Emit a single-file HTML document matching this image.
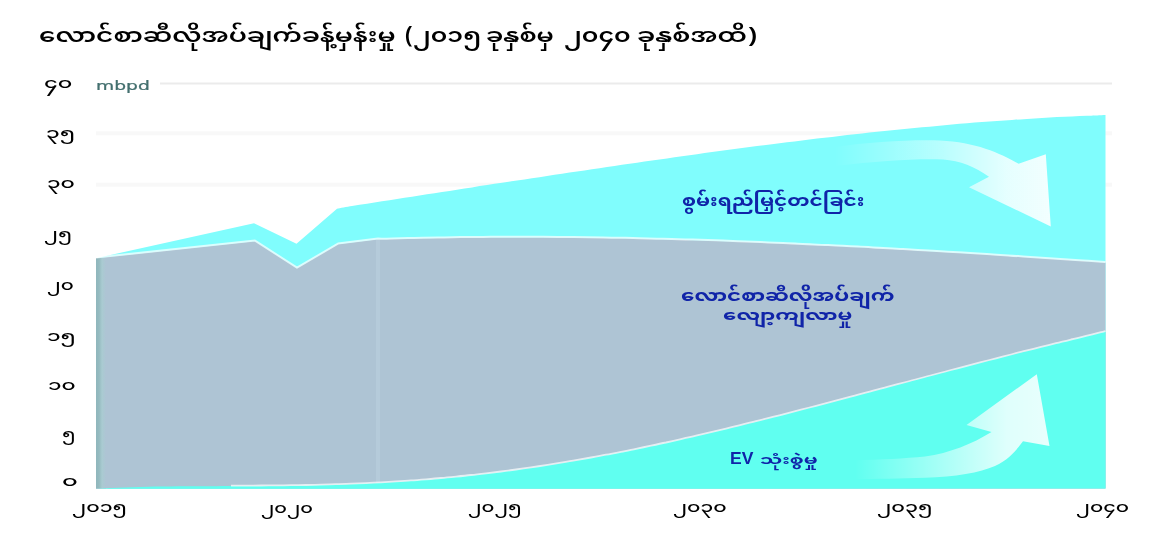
<!DOCTYPE html>
<html><head><meta charset="utf-8">
<style>
html,body{margin:0;padding:0;background:#fff;}
body{width:1170px;height:550px;position:relative;overflow:hidden;filter:blur(0.4px);}
.t{position:absolute;white-space:nowrap;line-height:1;transform-origin:0 0;}
svg{position:absolute;left:0;top:0;}
</style></head><body>
<svg width="1170" height="550" viewBox="0 0 1170 550">
  <defs>
    <linearGradient id="ga1" x1="835" y1="0" x2="1050" y2="0" gradientUnits="userSpaceOnUse">
      <stop offset="0" stop-color="#fff" stop-opacity="0"/>
      <stop offset="0.5" stop-color="#fff" stop-opacity="0.45"/>
      <stop offset="0.8" stop-color="#fff" stop-opacity="0.8"/>
      <stop offset="1" stop-color="#fff" stop-opacity="0.9"/>
    </linearGradient>
    <linearGradient id="ga2" x1="855" y1="0" x2="1045" y2="0" gradientUnits="userSpaceOnUse">
      <stop offset="0" stop-color="#fff" stop-opacity="0"/>
      <stop offset="0.45" stop-color="#fff" stop-opacity="0.45"/>
      <stop offset="0.8" stop-color="#fff" stop-opacity="0.8"/>
      <stop offset="1" stop-color="#fff" stop-opacity="0.85"/>
    </linearGradient>
    <linearGradient id="gl" x1="96" y1="0" x2="106" y2="0" gradientUnits="userSpaceOnUse">
      <stop offset="0" stop-color="#8fb6bc"/>
      <stop offset="0.3" stop-color="#95babf"/>
      <stop offset="0.6" stop-color="#a9cbd1"/>
      <stop offset="1" stop-color="#aec4d4"/>
    </linearGradient>
  </defs>
  <line x1="160" y1="83.5" x2="1112" y2="83.5" stroke="#ebebeb" stroke-width="2"/>
  <g stroke="#f8f8f8" stroke-width="4">
    <line x1="96" y1="133.2" x2="1112" y2="133.2"/>
    <line x1="96" y1="184.7" x2="1112" y2="184.7"/>
  </g>
  <path fill="#80fdfd" d="M96.0,258.2 L254.0,223.3 L296.5,243.8 L337.0,208.8 C339.5,208.0 347.0,206.8 352.0,206.0 C357.0,205.2 362.0,204.4 367.0,203.7 C372.0,202.9 377.0,202.1 382.0,201.3 C387.0,200.5 392.0,199.8 397.0,199.0 C402.0,198.2 407.0,197.4 412.0,196.7 C417.0,195.9 422.0,195.1 427.0,194.3 C432.0,193.5 437.0,192.8 442.0,192.0 C447.0,191.2 452.0,190.5 457.0,189.7 C462.0,188.9 467.0,188.1 472.0,187.4 C477.0,186.6 482.0,185.8 487.0,185.1 C492.0,184.3 497.0,183.5 502.0,182.8 C507.0,182.0 512.0,181.2 517.0,180.5 C522.0,179.7 527.0,179.0 532.0,178.2 C537.0,177.5 542.0,176.7 547.0,175.9 C552.0,175.2 557.0,174.4 562.0,173.7 C567.0,172.9 572.0,172.2 577.0,171.5 C582.0,170.7 587.0,170.0 592.0,169.2 C597.0,168.5 602.0,167.8 607.0,167.0 C612.0,166.3 617.0,165.6 622.0,164.8 C627.0,164.1 632.0,163.4 637.0,162.7 C642.0,161.9 647.0,161.2 652.0,160.5 C657.0,159.8 662.0,159.1 667.0,158.4 C672.0,157.7 677.0,157.0 682.0,156.3 C687.0,155.6 692.0,154.9 697.0,154.2 C702.0,153.5 707.0,152.8 712.0,152.1 C717.0,151.4 722.0,150.8 727.0,150.1 C732.0,149.4 737.0,148.8 742.0,148.1 C747.0,147.4 752.0,146.8 757.0,146.1 C762.0,145.5 767.0,144.8 772.0,144.2 C777.0,143.6 782.0,142.9 787.0,142.3 C792.0,141.7 797.0,141.1 802.0,140.5 C807.0,139.8 812.0,139.2 817.0,138.6 C822.0,138.0 827.0,137.5 832.0,136.9 C837.0,136.3 842.0,135.7 847.0,135.1 C852.0,134.6 857.0,134.0 862.0,133.5 C867.0,132.9 872.0,132.4 877.0,131.8 C882.0,131.3 887.0,130.8 892.0,130.3 C897.0,129.7 902.0,129.2 907.0,128.7 C912.0,128.2 917.0,127.8 922.0,127.3 C927.0,126.8 932.0,126.3 937.0,125.9 C942.0,125.4 947.0,125.0 952.0,124.5 C957.0,124.1 962.0,123.7 967.0,123.3 C972.0,122.8 977.0,122.4 982.0,122.0 C987.0,121.7 992.0,121.3 997.0,120.9 C1002.0,120.5 1007.0,120.2 1012.0,119.9 C1017.0,119.5 1022.0,119.2 1027.0,118.9 C1032.0,118.6 1037.0,118.3 1042.0,118.0 C1047.0,117.7 1052.0,117.4 1057.0,117.1 C1062.0,116.9 1067.0,116.6 1072.0,116.4 C1077.0,116.2 1082.0,116.0 1087.0,115.8 C1092.0,115.6 1098.9,115.3 1102.0,115.2 C1105.1,115.1 1104.9,115.1 1105.5,115.1 L1105.5,488.6 L96,488.6 Z"/>
  <path fill="#aec4d4" d="M96.0,258.2 L255.0,241.2 L297.0,268.3 L338.0,244.2 L378.0,239.2 C380.5,239.4 388.0,239.2 393.0,239.0 C398.0,238.9 403.0,238.8 408.0,238.7 C413.0,238.5 418.0,238.4 423.0,238.3 C428.0,238.2 433.0,238.1 438.0,238.0 C443.0,238.0 448.0,237.9 453.0,237.8 C458.0,237.7 463.0,237.7 468.0,237.6 C473.0,237.6 478.0,237.5 483.0,237.5 C488.0,237.5 493.0,237.4 498.0,237.4 C503.0,237.4 508.0,237.4 513.0,237.4 C518.0,237.4 523.0,237.4 528.0,237.4 C533.0,237.4 538.0,237.4 543.0,237.4 C548.0,237.5 553.0,237.5 558.0,237.5 C563.0,237.6 568.0,237.6 573.0,237.7 C578.0,237.7 583.0,237.8 588.0,237.9 C593.0,237.9 598.0,238.0 603.0,238.1 C608.0,238.2 613.0,238.3 618.0,238.3 C623.0,238.4 628.0,238.5 633.0,238.6 C638.0,238.8 643.0,238.9 648.0,239.0 C653.0,239.1 658.0,239.2 663.0,239.4 C668.0,239.5 673.0,239.6 678.0,239.8 C683.0,239.9 688.0,240.1 693.0,240.2 C698.0,240.4 703.0,240.5 708.0,240.7 C713.0,240.9 718.0,241.0 723.0,241.2 C728.0,241.4 733.0,241.6 738.0,241.8 C743.0,242.0 748.0,242.1 753.0,242.3 C758.0,242.5 763.0,242.7 768.0,243.0 C773.0,243.2 778.0,243.4 783.0,243.6 C788.0,243.8 793.0,244.0 798.0,244.3 C803.0,244.5 808.0,244.7 813.0,245.0 C818.0,245.2 823.0,245.4 828.0,245.7 C833.0,245.9 838.0,246.2 843.0,246.4 C848.0,246.7 853.0,246.9 858.0,247.2 C863.0,247.4 868.0,247.7 873.0,248.0 C878.0,248.2 883.0,248.5 888.0,248.8 C893.0,249.1 898.0,249.4 903.0,249.6 C908.0,249.9 913.0,250.2 918.0,250.5 C923.0,250.8 928.0,251.1 933.0,251.4 C938.0,251.7 943.0,252.0 948.0,252.3 C953.0,252.6 958.0,252.9 963.0,253.2 C968.0,253.5 973.0,253.8 978.0,254.1 C983.0,254.4 988.0,254.7 993.0,255.1 C998.0,255.4 1003.0,255.7 1008.0,256.0 C1013.0,256.4 1018.0,256.7 1023.0,257.0 C1028.0,257.3 1033.0,257.7 1038.0,258.0 C1043.0,258.3 1048.0,258.7 1053.0,259.0 C1058.0,259.3 1063.0,259.7 1068.0,260.0 C1073.0,260.3 1078.0,260.7 1083.0,261.0 C1088.0,261.4 1094.2,261.8 1098.0,262.1 C1101.8,262.3 1104.2,262.5 1105.5,262.6 L1105.5,488.6 L96,488.6 Z"/>
  <rect x="96" y="258" width="10" height="230.6" fill="url(#gl)"/>
  <line x1="378" y1="240" x2="378" y2="483" stroke="#b5cbda" stroke-width="4"/>
  <path fill="#60fff0" d="M96.0,488.7 C98.5,488.6 106.0,488.2 111.0,487.9 C116.0,487.7 121.0,487.5 126.0,487.4 C131.0,487.2 136.0,487.1 141.0,486.9 C146.0,486.8 151.0,486.7 156.0,486.6 C161.0,486.6 166.0,486.5 171.0,486.4 C176.0,486.4 181.0,486.3 186.0,486.3 C191.0,486.3 196.0,486.3 201.0,486.2 C206.0,486.2 211.0,486.2 216.0,486.2 C221.0,486.2 226.0,486.2 231.0,486.1 C236.0,486.1 241.0,486.1 246.0,486.1 C251.0,486.1 256.0,486.0 261.0,486.0 C266.0,486.0 271.0,485.9 276.0,485.9 C281.0,485.8 286.0,485.8 291.0,485.7 C296.0,485.6 301.0,485.6 306.0,485.5 C311.0,485.4 316.0,485.3 321.0,485.1 C326.0,485.0 331.0,484.9 336.0,484.7 C341.0,484.6 346.0,484.4 351.0,484.2 C356.0,484.0 361.0,483.8 366.0,483.6 C371.0,483.3 376.0,483.1 381.0,482.8 C386.0,482.5 391.0,482.2 396.0,481.9 C401.0,481.6 406.0,481.3 411.0,480.9 C416.0,480.6 421.0,480.2 426.0,479.8 C431.0,479.4 436.0,479.0 441.0,478.5 C446.0,478.1 451.0,477.6 456.0,477.1 C461.0,476.6 466.0,476.1 471.0,475.5 C476.0,475.0 481.0,474.4 486.0,473.8 C491.0,473.2 496.0,472.6 501.0,472.0 C506.0,471.4 511.0,470.7 516.0,470.0 C521.0,469.3 526.0,468.6 531.0,467.9 C536.0,467.1 541.0,466.4 546.0,465.6 C551.0,464.8 556.0,464.0 561.0,463.2 C566.0,462.4 571.0,461.6 576.0,460.7 C581.0,459.8 586.0,458.9 591.0,458.0 C596.0,457.1 601.0,456.2 606.0,455.2 C611.0,454.3 616.0,453.3 621.0,452.3 C626.0,451.4 631.0,450.3 636.0,449.3 C641.0,448.3 646.0,447.2 651.0,446.2 C656.0,445.1 661.0,444.0 666.0,443.0 C671.0,441.9 676.0,440.7 681.0,439.6 C686.0,438.5 691.0,437.4 696.0,436.2 C701.0,435.0 706.0,433.9 711.0,432.7 C716.0,431.5 721.0,430.3 726.0,429.1 C731.0,427.9 736.0,426.7 741.0,425.4 C746.0,424.2 751.0,423.0 756.0,421.7 C761.0,420.5 766.0,419.2 771.0,417.9 C776.0,416.7 781.0,415.4 786.0,414.1 C791.0,412.8 796.0,411.5 801.0,410.2 C806.0,408.9 811.0,407.6 816.0,406.3 C821.0,405.0 826.0,403.7 831.0,402.4 C836.0,401.1 841.0,399.7 846.0,398.4 C851.0,397.1 856.0,395.8 861.0,394.4 C866.0,393.1 871.0,391.8 876.0,390.4 C881.0,389.1 886.0,387.8 891.0,386.4 C896.0,385.1 901.0,383.8 906.0,382.5 C911.0,381.1 916.0,379.8 921.0,378.5 C926.0,377.1 931.0,375.8 936.0,374.5 C941.0,373.2 946.0,371.9 951.0,370.5 C956.0,369.2 961.0,367.9 966.0,366.6 C971.0,365.3 976.0,364.0 981.0,362.7 C986.0,361.4 991.0,360.1 996.0,358.8 C1001.0,357.5 1006.0,356.3 1011.0,355.0 C1016.0,353.7 1021.0,352.4 1026.0,351.2 C1031.0,349.9 1036.0,348.7 1041.0,347.4 C1046.0,346.2 1051.0,344.9 1056.0,343.7 C1061.0,342.4 1066.0,341.2 1071.0,340.0 C1076.0,338.7 1081.0,337.5 1086.0,336.3 C1091.0,335.1 1097.8,333.5 1101.0,332.7 C1104.2,331.9 1104.8,331.8 1105.5,331.6 L1105.5,488.6 Z"/>
  <path fill="none" stroke="#fff" stroke-width="2" stroke-opacity="0.7" stroke-linejoin="round" d="M96.0,257.6 L255.0,240.6 L297.0,267.7 L338.0,243.6 L378.0,238.6 C380.5,238.8 388.0,238.6 393.0,238.4 C398.0,238.3 403.0,238.2 408.0,238.1 C413.0,237.9 418.0,237.8 423.0,237.7 C428.0,237.6 433.0,237.5 438.0,237.4 C443.0,237.4 448.0,237.3 453.0,237.2 C458.0,237.1 463.0,237.1 468.0,237.0 C473.0,237.0 478.0,236.9 483.0,236.9 C488.0,236.9 493.0,236.8 498.0,236.8 C503.0,236.8 508.0,236.8 513.0,236.8 C518.0,236.8 523.0,236.8 528.0,236.8 C533.0,236.8 538.0,236.8 543.0,236.8 C548.0,236.9 553.0,236.9 558.0,236.9 C563.0,237.0 568.0,237.0 573.0,237.1 C578.0,237.1 583.0,237.2 588.0,237.3 C593.0,237.3 598.0,237.4 603.0,237.5 C608.0,237.6 613.0,237.7 618.0,237.7 C623.0,237.8 628.0,237.9 633.0,238.0 C638.0,238.2 643.0,238.3 648.0,238.4 C653.0,238.5 658.0,238.6 663.0,238.8 C668.0,238.9 673.0,239.0 678.0,239.2 C683.0,239.3 688.0,239.5 693.0,239.6 C698.0,239.8 703.0,239.9 708.0,240.1 C713.0,240.3 718.0,240.4 723.0,240.6 C728.0,240.8 733.0,241.0 738.0,241.2 C743.0,241.4 748.0,241.5 753.0,241.7 C758.0,241.9 763.0,242.1 768.0,242.4 C773.0,242.6 778.0,242.8 783.0,243.0 C788.0,243.2 793.0,243.4 798.0,243.7 C803.0,243.9 808.0,244.1 813.0,244.4 C818.0,244.6 823.0,244.8 828.0,245.1 C833.0,245.3 838.0,245.6 843.0,245.8 C848.0,246.1 853.0,246.3 858.0,246.6 C863.0,246.8 868.0,247.1 873.0,247.4 C878.0,247.6 883.0,247.9 888.0,248.2 C893.0,248.5 898.0,248.8 903.0,249.0 C908.0,249.3 913.0,249.6 918.0,249.9 C923.0,250.2 928.0,250.5 933.0,250.8 C938.0,251.1 943.0,251.4 948.0,251.7 C953.0,252.0 958.0,252.3 963.0,252.6 C968.0,252.9 973.0,253.2 978.0,253.5 C983.0,253.8 988.0,254.1 993.0,254.5 C998.0,254.8 1003.0,255.1 1008.0,255.4 C1013.0,255.8 1018.0,256.1 1023.0,256.4 C1028.0,256.7 1033.0,257.1 1038.0,257.4 C1043.0,257.7 1048.0,258.1 1053.0,258.4 C1058.0,258.7 1063.0,259.1 1068.0,259.4 C1073.0,259.7 1078.0,260.1 1083.0,260.4 C1088.0,260.8 1094.2,261.2 1098.0,261.5 C1101.8,261.7 1104.2,261.9 1105.5,262.0"/>
  <path fill="none" stroke="#fff" stroke-width="1.8" stroke-opacity="0.7" stroke-linejoin="round" d="M231.0,485.6 C233.5,485.6 241.0,485.6 246.0,485.6 C251.0,485.6 256.0,485.5 261.0,485.5 C266.0,485.5 271.0,485.4 276.0,485.4 C281.0,485.3 286.0,485.3 291.0,485.2 C296.0,485.1 301.0,485.1 306.0,485.0 C311.0,484.9 316.0,484.8 321.0,484.6 C326.0,484.5 331.0,484.4 336.0,484.2 C341.0,484.1 346.0,483.9 351.0,483.7 C356.0,483.5 361.0,483.3 366.0,483.1 C371.0,482.8 376.0,482.6 381.0,482.3 C386.0,482.0 391.0,481.7 396.0,481.4 C401.0,481.1 406.0,480.8 411.0,480.4 C416.0,480.1 421.0,479.7 426.0,479.3 C431.0,478.9 436.0,478.5 441.0,478.0 C446.0,477.6 451.0,477.1 456.0,476.6 C461.0,476.1 466.0,475.6 471.0,475.0 C476.0,474.5 481.0,473.9 486.0,473.3 C491.0,472.7 496.0,472.1 501.0,471.5 C506.0,470.9 511.0,470.2 516.0,469.5 C521.0,468.8 526.0,468.1 531.0,467.4 C536.0,466.6 541.0,465.9 546.0,465.1 C551.0,464.3 556.0,463.5 561.0,462.7 C566.0,461.9 571.0,461.1 576.0,460.2 C581.0,459.3 586.0,458.4 591.0,457.5 C596.0,456.6 601.0,455.7 606.0,454.7 C611.0,453.8 616.0,452.8 621.0,451.8 C626.0,450.9 631.0,449.8 636.0,448.8 C641.0,447.8 646.0,446.7 651.0,445.7 C656.0,444.6 661.0,443.5 666.0,442.5 C671.0,441.4 676.0,440.2 681.0,439.1 C686.0,438.0 691.0,436.9 696.0,435.7 C701.0,434.5 706.0,433.4 711.0,432.2 C716.0,431.0 721.0,429.8 726.0,428.6 C731.0,427.4 736.0,426.2 741.0,424.9 C746.0,423.7 751.0,422.5 756.0,421.2 C761.0,420.0 766.0,418.7 771.0,417.4 C776.0,416.2 781.0,414.9 786.0,413.6 C791.0,412.3 796.0,411.0 801.0,409.7 C806.0,408.4 811.0,407.1 816.0,405.8 C821.0,404.5 826.0,403.2 831.0,401.9 C836.0,400.6 841.0,399.2 846.0,397.9 C851.0,396.6 856.0,395.3 861.0,393.9 C866.0,392.6 871.0,391.3 876.0,389.9 C881.0,388.6 886.0,387.3 891.0,385.9 C896.0,384.6 901.0,383.3 906.0,382.0 C911.0,380.6 916.0,379.3 921.0,378.0 C926.0,376.6 931.0,375.3 936.0,374.0 C941.0,372.7 946.0,371.4 951.0,370.0 C956.0,368.7 961.0,367.4 966.0,366.1 C971.0,364.8 976.0,363.5 981.0,362.2 C986.0,360.9 991.0,359.6 996.0,358.3 C1001.0,357.0 1006.0,355.8 1011.0,354.5 C1016.0,353.2 1021.0,351.9 1026.0,350.7 C1031.0,349.4 1036.0,348.2 1041.0,346.9 C1046.0,345.7 1051.0,344.4 1056.0,343.2 C1061.0,341.9 1066.0,340.7 1071.0,339.5 C1076.0,338.2 1081.0,337.0 1086.0,335.8 C1091.0,334.6 1097.8,333.0 1101.0,332.2 C1104.2,331.4 1104.8,331.3 1105.5,331.1"/>
  <path fill="url(#ga1)" d="M835,147 C870,142 910,139.5 940,140.5 C975,142 1000,153 1018.6,163.7 L1045.8,154.3 L1050.8,226.4 L969,187.2 L989,176.7 C975,167 960,160.5 943,159.5 C915,158.5 880,161 835,166 Z"/>
  <path fill="url(#ga2)" d="M855,460.5 C880,459.5 905,458.5 925,456.5 C950,453 972,444 991.5,432 L966.5,425 L1036.8,374.2 L1049.5,446 L1023,441.2 C1015,452 1008,460 995,466 C980,472.5 955,477 925,477.8 C900,478.5 875,479 855,479.2 Z"/>
</svg>
<div class="t" style="left:39.31px;top:24.85px;font-family:'Noto Sans Myanmar UI','Noto Sans Myanmar',sans-serif;font-weight:600;font-size:22px;color:#000;transform:scale(1.1943,0.9909);">လောင်စာဆီလိုအပ်ချက်ခန့်မှန်းမှု</div>
<div class="t" style="left:405.32px;top:21.75px;font-family:'Noto Sans Myanmar UI','Noto Sans Myanmar',sans-serif;font-weight:600;font-size:22px;color:#000;transform:scale(1.0800,1.0368);">(</div>
<div class="t" style="left:413.36px;top:24.77px;font-family:'Noto Sans Myanmar UI','Noto Sans Myanmar',sans-serif;font-weight:600;font-size:22px;color:#000;transform:scale(1.1386,0.9909);">၂၀၁၅</div>
<div class="t" style="left:486.07px;top:24.85px;font-family:'Noto Sans Myanmar UI','Noto Sans Myanmar',sans-serif;font-weight:600;font-size:22px;color:#000;transform:scale(1.1345,0.9909);">ခုနှစ်မှ</div>
<div class="t" style="left:564.26px;top:24.77px;font-family:'Noto Sans Myanmar UI','Noto Sans Myanmar',sans-serif;font-weight:600;font-size:22px;color:#000;transform:scale(1.1446,0.9909);">၂၀၄၀</div>
<div class="t" style="left:636.90px;top:24.85px;font-family:'Noto Sans Myanmar UI','Noto Sans Myanmar',sans-serif;font-weight:600;font-size:22px;color:#000;transform:scale(1.1967,0.9909);">ခုနှစ်အထိ</div>
<div class="t" style="left:747.54px;top:23.18px;font-family:'Noto Sans Myanmar UI','Noto Sans Myanmar',sans-serif;font-weight:600;font-size:22px;color:#000;transform:scale(1.2600,1.0053);">)</div>
<div class="t" style="left:95.75px;top:79.70px;font-family:'DejaVu Sans',sans-serif;font-weight:400;font-size:15px;color:#44706f;transform:scale(1.2463,0.8333);-webkit-text-stroke:0.3px #44706f;">mbpd</div>
<div class="t" style="left:44.29px;top:76.77px;font-family:'Noto Sans Myanmar UI','Noto Sans Myanmar',sans-serif;font-weight:500;font-size:17px;color:#000;transform:scale(1.3050,0.9563);">၄၀</div>
<div class="t" style="left:46.20px;top:125.90px;font-family:'Noto Sans Myanmar UI','Noto Sans Myanmar',sans-serif;font-weight:500;font-size:17px;color:#000;transform:scale(1.2950,0.9250);">၃၅</div>
<div class="t" style="left:46.82px;top:175.55px;font-family:'Noto Sans Myanmar UI','Noto Sans Myanmar',sans-serif;font-weight:500;font-size:17px;color:#000;transform:scale(1.2800,0.9375);">၃၀</div>
<div class="t" style="left:43.71px;top:227.02px;font-family:'Noto Sans Myanmar UI','Noto Sans Myanmar',sans-serif;font-weight:500;font-size:17px;color:#000;transform:scale(1.1857,0.9187);">၂၅</div>
<div class="t" style="left:46.53px;top:278.33px;font-family:'Noto Sans Myanmar UI','Noto Sans Myanmar',sans-serif;font-weight:500;font-size:17px;color:#000;transform:scale(1.1667,0.9187);">၂၀</div>
<div class="t" style="left:47.22px;top:329.00px;font-family:'Noto Sans Myanmar UI','Noto Sans Myanmar',sans-serif;font-weight:500;font-size:17px;color:#000;transform:scale(1.2800,0.9000);">၁၅</div>
<div class="t" style="left:47.93px;top:377.50px;font-family:'Noto Sans Myanmar UI','Noto Sans Myanmar',sans-serif;font-weight:500;font-size:17px;color:#000;transform:scale(1.2650,1.0250);">၁၀</div>
<div class="t" style="left:62.46px;top:427.45px;font-family:'Noto Sans Myanmar UI','Noto Sans Myanmar',sans-serif;font-weight:500;font-size:17px;color:#000;transform:scale(1.1400,0.9375);">၅</div>
<div class="t" style="left:62.49px;top:475.30px;font-family:'Noto Sans Myanmar UI','Noto Sans Myanmar',sans-serif;font-weight:500;font-size:17px;color:#000;transform:scale(1.4111,0.9500);">၀</div>
<div class="t" style="left:71.79px;top:499.95px;font-family:'Noto Sans Myanmar UI','Noto Sans Myanmar',sans-serif;font-weight:500;font-size:17px;color:#000;transform:scale(1.2093,0.9375);">၂၀၁၅</div>
<div class="t" style="left:260.77px;top:500.73px;font-family:'Noto Sans Myanmar UI','Noto Sans Myanmar',sans-serif;font-weight:500;font-size:17px;color:#000;transform:scale(1.1341,0.9437);">၂၀၂၀</div>
<div class="t" style="left:468.45px;top:499.95px;font-family:'Noto Sans Myanmar UI','Noto Sans Myanmar',sans-serif;font-weight:500;font-size:17px;color:#000;transform:scale(1.1523,0.9375);">၂၀၂၅</div>
<div class="t" style="left:672.50px;top:499.95px;font-family:'Noto Sans Myanmar UI','Noto Sans Myanmar',sans-serif;font-weight:500;font-size:17px;color:#000;transform:scale(1.2023,0.9375);">၂၀၃၀</div>
<div class="t" style="left:877.48px;top:499.95px;font-family:'Noto Sans Myanmar UI','Noto Sans Myanmar',sans-serif;font-weight:500;font-size:17px;color:#000;transform:scale(1.2233,0.9375);">၂၀၃၅</div>
<div class="t" style="left:1076.21px;top:499.95px;font-family:'Noto Sans Myanmar UI','Noto Sans Myanmar',sans-serif;font-weight:500;font-size:17px;color:#000;transform:scale(1.1907,0.9375);">၂၀၄၀</div>
<div class="t" style="left:682.22px;top:192.55px;font-family:'Noto Sans Myanmar UI','Noto Sans Myanmar',sans-serif;font-weight:700;font-size:17px;color:#1024a8;transform:scale(1.1796,1.0500);">စွမ်းရည်မြှင့်တင်ခြင်း</div>
<div class="t" style="left:681.24px;top:287.94px;font-family:'Noto Sans Myanmar UI','Noto Sans Myanmar',sans-serif;font-weight:700;font-size:17px;color:#1024a8;transform:scale(1.2589,1.0875);">လောင်စာဆီလိုအပ်ချက်</div>
<div class="t" style="left:723.25px;top:308.30px;font-family:'Noto Sans Myanmar UI','Noto Sans Myanmar',sans-serif;font-weight:700;font-size:17px;color:#1024a8;transform:scale(1.2451,1.0250);">လျော့ကျလာမှု</div>
<div class="t" style="left:730.23px;top:449.05px;font-family:'Liberation Sans',sans-serif;font-weight:700;font-size:15px;color:#1024a8;transform:scale(1.1684,1.1500);">EV</div>
<div class="t" style="left:759.58px;top:453.50px;font-family:'Noto Sans Myanmar UI','Noto Sans Myanmar',sans-serif;font-weight:700;font-size:14px;color:#1024a8;transform:scale(1.4231,1.0000);">သုံးစွဲမှု</div>
</body></html>
